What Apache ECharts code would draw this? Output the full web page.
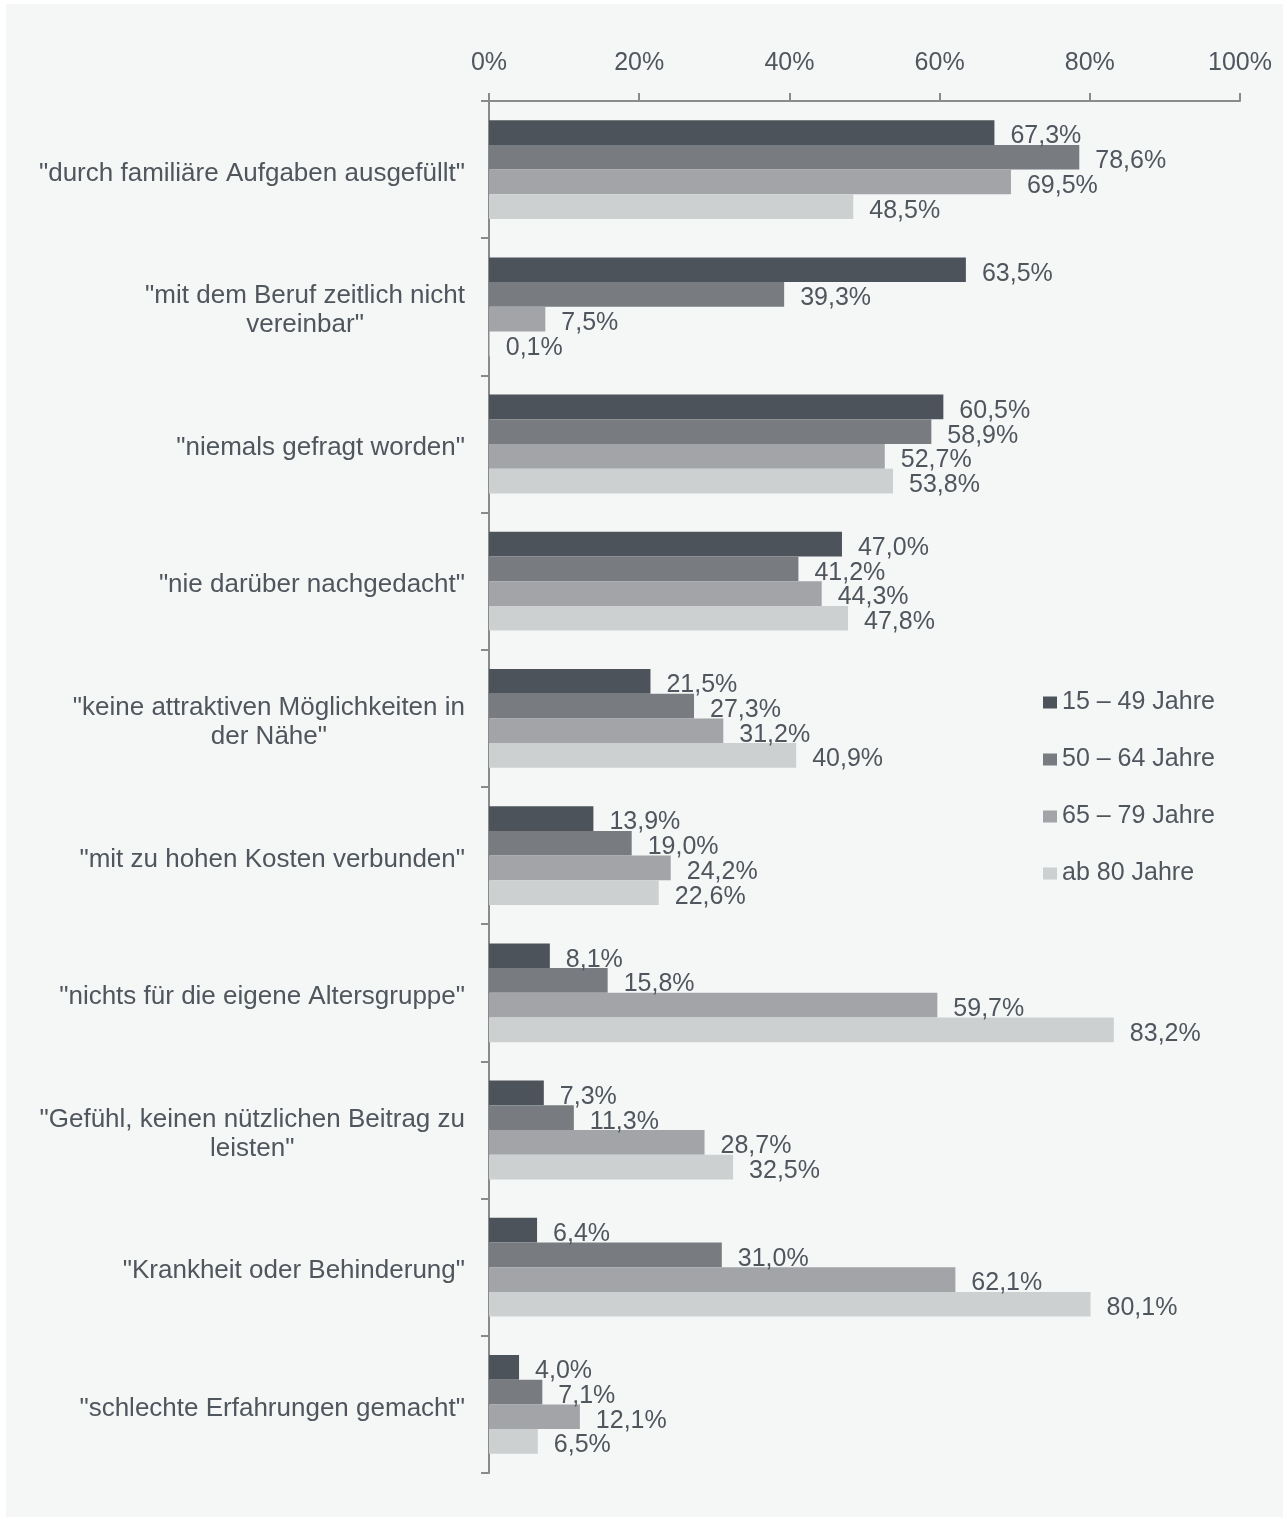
<!DOCTYPE html>
<html>
<head>
<meta charset="utf-8">
<script src="https://cdn.jsdelivr.net/npm/echarts@6/dist/echarts.min.js"></script>
<style>
html,body{margin:0;padding:0;background:#ffffff;}
#chart{position:absolute;left:6px;top:4px;width:1277px;height:1513px;background:#f5f6f6;}
</style>
</head>
<body>
<div id="chart"></div>
<script>
const categories = [
  '"durch familiäre Aufgaben ausgefüllt"',
  '"mit dem Beruf zeitlich nicht\nvereinbar"',
  '"niemals gefragt worden"',
  '"nie darüber nachgedacht"',
  '"keine attraktiven Möglichkeiten in\nder Nähe"',
  '"mit zu hohen Kosten verbunden"',
  '"nichts für die eigene Altersgruppe"',
  '"Gefühl, keinen nützlichen Beitrag zu\nleisten"',
  '"Krankheit oder Behinderung"',
  '"schlechte Erfahrungen gemacht"'
];
const seriesNames = ['15 – 49 Jahre', '50 – 64 Jahre', '65 – 79 Jahre', 'ab 80 Jahre'];
const age15to49 = [67.3, 63.5, 60.5, 47.0, 21.5, 13.9, 8.1, 7.3, 6.4, 4.0];
const age50to64 = [78.6, 39.3, 58.9, 41.2, 27.3, 19.0, 15.8, 11.3, 31.0, 7.1];
const age65to79 = [69.5, 7.5, 52.7, 44.3, 31.2, 24.2, 59.7, 28.7, 62.1, 12.1];
const age80plus = [48.5, 0.1, 53.8, 47.8, 40.9, 22.6, 83.2, 32.5, 80.1, 6.5];
const xTicks = [0, 20, 40, 60, 80, 100];

const seriesData = [age15to49, age50to64, age65to79, age80plus];
const colors = ['#4d535a', '#787c80', '#a2a4a7', '#cdd0d1'];
const textColor = '#50565d';
const axisColor = '#8a8a8a';
const fontFamily = '"Liberation Sans", Arial, sans-serif';

const chart = echarts.init(document.getElementById('chart'));
chart.setOption({
  backgroundColor: 'transparent',
  animation: false,
  textStyle: { fontFamily: fontFamily },
  grid: { left: 483, right: 43, top: 97, bottom: 44, containLabel: false },
  legend: {
    data: seriesNames,
    orient: 'vertical',
    left: 1037,
    top: 686,
    padding: 0,
    itemWidth: 14,
    itemHeight: 12,
    itemGap: 32,
    icon: 'rect',
    textStyle: { color: textColor, fontSize: 25, lineHeight: 24, fontFamily: fontFamily, padding: [0, 0, 0, 0] }
  },
  xAxis: {
    type: 'value',
    position: 'top',
    min: xTicks[0],
    max: xTicks[xTicks.length - 1],
    interval: xTicks[1] - xTicks[0],
    axisLine: { show: true, lineStyle: { color: axisColor, width: 2 } },
    axisTick: { show: true, length: 8, lineStyle: { color: axisColor, width: 2 } },
    splitLine: { show: false },
    axisLabel: { color: textColor, fontSize: 25, margin: 25, formatter: '{value}%', fontFamily: fontFamily }
  },
  yAxis: {
    type: 'category',
    inverse: true,
    data: categories,
    axisLine: { show: true, lineStyle: { color: axisColor, width: 2 } },
    axisTick: { show: true, length: 8, alignWithLabel: false, lineStyle: { color: axisColor, width: 2 } },
    axisLabel: {
      margin: 24,
      color: textColor,
      fontSize: 26,
      fontFamily: fontFamily,
      lineHeight: 29,
      padding: [8, 0, 0, 0],
      formatter: function (v) {
        return v.split('\n').map(function (l) { return '{c|' + l + '}'; }).join('\n');
      },
      rich: {
        c: { align: 'center', color: textColor, fontSize: 26, fontFamily: fontFamily, lineHeight: 29 }
      }
    }
  },
  series: seriesData.map(function (d, i) {
    return {
      name: seriesNames[i],
      type: 'bar',
      data: d,
      barGap: '0%',
      barCategoryGap: '28%',
      itemStyle: { color: colors[i] },
      label: {
        show: true,
        position: 'right',
        distance: 16,
        offset: [0, 4],
        color: textColor,
        fontSize: 25,
        fontFamily: fontFamily,
        formatter: function (p) { return p.value.toFixed(1).replace('.', ',') + '%'; }
      }
    };
  })
});
</script>
</body>
</html>
